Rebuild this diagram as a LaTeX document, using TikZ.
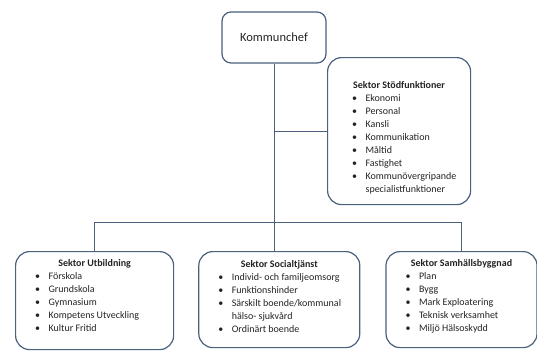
\documentclass[tikz,border=0pt]{standalone}
\usepackage{fontspec}
\setmainfont{Carlito}
\usepackage{tikz}
\usetikzlibrary{ calc, positioning }
\definecolor{linje}{RGB}{74,96,124}
\definecolor{textfarg}{RGB}{35,35,35}

% box content: width, height, top gap, text indent, title, items
\newcommand{\ruta}[6]{%
  \parbox[c][#2][t]{#1}{\vspace*{#3}\fontsize{10}{13}\selectfont
    {\centering\textbf{#5}\par}
    \raggedright
    \begin{list}{\textbullet}{\setlength{\leftmargin}{#4}\setlength{\labelsep}{8.5pt}%
      \setlength{\labelwidth}{20pt}\setlength{\itemsep}{0pt}\setlength{\parsep}{0pt}%
      \setlength{\topsep}{0pt}\setlength{\partopsep}{0pt}}
    #6
    \end{list}}}

\tikzset{
sektor/.style={draw=linje, line width=1.2pt, rounded corners=14pt, inner sep=0pt, text=textfarg}, % sector boxes
chefruta/.style={draw=linje, line width=1.2pt, rounded corners=9pt, minimum width=104pt, minimum height=51pt, text=textfarg, font=\fontsize{12.5}{15}\selectfont},
linjer/.style={draw=linje, line width=1pt}, % org lines
}

\begin{document}
\begin{tikzpicture}[x=1pt,y=-1pt]
  \useasboundingbox (0,0) rectangle (537,351);%same size as the chart
  \node[chefruta] (chef) at (274,37.5) {Kommunchef};
  \node[sektor, anchor=north west] (stod) at (327,57) {\ruta{143pt}{147pt}{24pt}{38pt}{Sektor Stödfunktioner}{%
    \item Ekonomi
    \item Personal
    \item Kansli
    \item Kommunikation
    \item Måltid
    \item Fastighet
    \item Kommunövergripande\\ specialistfunktioner}};
  \node[sektor, anchor=north west] (utb) at (15,251) {\ruta{158pt}{98pt}{8pt}{33pt}{Sektor Utbildning}{%
    \item Förskola
    \item Grundskola
    \item Gymnasium
    \item Kompetens Utveckling
    \item Kultur Fritid}};
  \node[sektor, right=24pt of utb.north east, anchor=north west] (soc) {\ruta{161pt}{96pt}{9pt}{33pt}{Sektor Socialtjänst}{%
    \item Individ- och familjeomsorg
    \item Funktionshinder
    \item Särskilt boende/kommunal\\ hälso- sjukvård
    \item Ordinärt boende}};
  \node[sektor, right=25pt of soc.north east, anchor=north west] (sam) {\ruta{151pt}{96pt}{8pt}{33pt}{Sektor Samhällsbyggnad}{%
    \item Plan
    \item Bygg
    \item Mark Exploatering
    \item Teknisk verksamhet
    \item Miljö Hälsoskydd}};
  \coordinate (bus) at (0,222);

  \draw[linjer] (chef) -- (chef |- soc.north);
  \draw[linjer] (stod.west) -- (stod.west -| chef);
  \draw[linjer] (utb |- bus) -- (sam |- bus);
  \draw[linjer] (utb |- bus) -- (utb);
  \draw[linjer] (sam |- bus) -- (sam);
\end{tikzpicture}
\end{document}
